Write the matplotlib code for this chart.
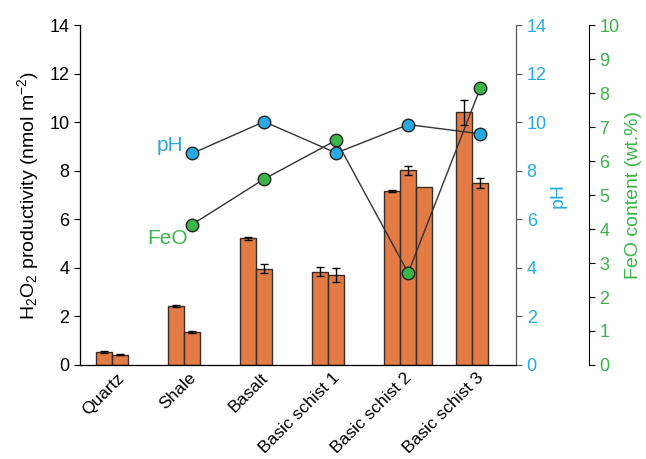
import matplotlib
matplotlib.use("Agg")
import matplotlib.pyplot as plt
import matplotlib.transforms as mtransforms
import numpy as np

plt.rcParams["font.family"] = ["Liberation Sans", "DejaVu Sans"]
plt.rcParams["mathtext.fontset"] = "custom"
plt.rcParams["mathtext.rm"] = "Liberation Sans"
plt.rcParams["mathtext.default"] = "regular"

# group labels and H2O2 productivity bars (nmol m^-2)
samples = ["Quartz", "Shale", "Basalt", "Basic schist 1", "Basic schist 2", "Basic schist 3"]
h2o2_values = [[0.55, 0.43], [2.43, 1.35], [5.21, 3.97], [3.85, 3.70],
               [7.16, 8.01, 7.35], [10.40, 7.50]]
h2o2_errors = [[0.04, 0.02], [0.06, 0.04], [0.08, 0.2], [0.2, 0.3],
               [0.05, 0.18, 0.0], [0.5, 0.22]]

# pH and FeO content, no value for Quartz
ph_samples = ["Shale", "Basalt", "Basic schist 1", "Basic schist 2", "Basic schist 3"]
ph_values = [8.71, 10.02, 8.73, 9.90, 9.52]
feo_values = [4.13, 5.47, 6.61, 2.71, 8.14]

BAR_COLOR = "#E27B44"
BLUE = "#27AAE1"
GREEN = "#3BB44A"
FS = 13

width = 0.222

fig = plt.figure(figsize=(6.46, 4.59), dpi=100)
ax = fig.add_axes([0.1238, 0.2048, 0.6754, 0.7407])

positions = np.arange(len(samples))
for pos, vals, errs in zip(positions, h2o2_values, h2o2_errors):
    for i, (v, e) in enumerate(zip(vals, errs)):
        left = pos - width + i * width
        ax.bar(left, v, width=width, align="edge", color=BAR_COLOR,
               edgecolor="#3a2a20", linewidth=1.0, zorder=2)
        if e > 0:
            ax.errorbar(left + width / 2, v, yerr=e, fmt="none", ecolor="black",
                        elinewidth=1.0, capsize=3, capthick=1.0, zorder=3)

ax.set_xlim(-0.444, 5.611)
ax.set_ylim(0, 14)
ax.set_yticks(np.arange(0, 15, 2))
ax.set_xticks(positions)
ax.set_xticklabels(samples, rotation=45, ha="right", rotation_mode="anchor",
                   fontsize=12.5)
ax.tick_params(axis="x", length=0, pad=0)
shift = mtransforms.ScaledTranslation(4 / 100, -5 / 100, fig.dpi_scale_trans)
for lbl in ax.get_xticklabels():
    lbl.set_transform(lbl.get_transform() + shift)
ax.tick_params(axis="y", labelsize=FS, direction="out", length=4)
ax.set_ylabel("H$_2$O$_2$ productivity (nmol m$^{-2}$)", fontsize=14, labelpad=6)
ax.spines["top"].set_visible(False)
for s in ["left", "bottom", "right"]:
    ax.spines[s].set_color("#555555")

# pH axis
ax_ph = ax.twinx()
ax_ph.set_ylim(0, 14)
ax_ph.set_yticks(np.arange(0, 15, 2))
ax_ph.tick_params(axis="y", colors="#555555", labelcolor=BLUE, labelsize=FS, length=4)
ax_ph.set_ylabel("pH", color=BLUE, fontsize=14, labelpad=2)
ax_ph.spines["top"].set_visible(False)
ax_ph.spines["right"].set_color("#555555")

# FeO axis
ax_feo = ax.twinx()
ax_feo.spines["right"].set_position(("axes", 1.167))
ax_feo.set_ylim(0, 10)
ax_feo.set_yticks(np.arange(0, 11, 1))
ax_feo.tick_params(axis="y", colors="black", labelcolor=GREEN, labelsize=FS, length=4)
ax_feo.set_ylabel("FeO content (wt.%)", color=GREEN, fontsize=14, labelpad=4)
ax_feo.spines["top"].set_visible(False)
ax_feo.spines["right"].set_color("black")

ph_x = [samples.index(s) + width / 2 for s in ph_samples]
ax_ph.plot(ph_x, ph_values, color="#333333", linewidth=1.0, marker="o",
           markersize=9, markerfacecolor=BLUE, markeredgecolor="#222222",
           markeredgewidth=1.0, zorder=4)
ax_feo.plot(ph_x, feo_values, color="#333333", linewidth=1.0, marker="o",
            markersize=9, markerfacecolor=GREEN, markeredgecolor="#222222",
            markeredgewidth=1.0, zorder=4)

ax_ph.text(ph_x[0] - 0.12, ph_values[0] - 0.05, "pH", color=BLUE, fontsize=15,
           ha="right", va="bottom")
ax_feo.text(ph_x[0] - 0.06, feo_values[0] - 0.12, "FeO", color=GREEN, fontsize=15,
            ha="right", va="top")

fig.savefig("out.png", dpi=100)
